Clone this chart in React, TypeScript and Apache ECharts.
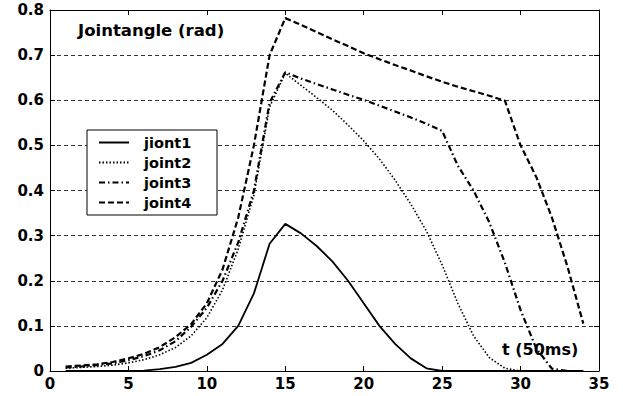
import React, { useEffect, useRef } from "react";
import * as echarts from "echarts";

const tValues = [1,2,3,4,5,6,7,8,9,10,11,12,13,14,15,16,17,18,19,20,21,22,23,24,25,26,27,28,29,30,31,32,33,34];
const joint1 = [0,0,0,0,0,0.001,0.004,0.009,0.018,0.036,0.06,0.1,0.172,0.282,0.326,0.305,0.277,0.243,0.2,0.15,0.1,0.06,0.028,0.006,0,0,0,0,0,0,0,0,0,0];
const joint2 = [0.006,0.008,0.01,0.013,0.018,0.025,0.036,0.052,0.078,0.118,0.18,0.27,0.39,0.585,0.66,0.633,0.606,0.578,0.545,0.51,0.47,0.423,0.37,0.31,0.235,0.15,0.078,0.03,0.006,0,0,0,0,0];
const joint3 = [0.008,0.01,0.013,0.017,0.024,0.033,0.046,0.066,0.098,0.14,0.2,0.285,0.4,0.595,0.662,0.648,0.636,0.624,0.612,0.601,0.588,0.575,0.562,0.548,0.532,0.455,0.4,0.33,0.24,0.135,0.05,0.005,0,0];
const joint4 = [0.01,0.012,0.015,0.02,0.028,0.038,0.053,0.075,0.104,0.15,0.225,0.34,0.5,0.7,0.782,0.767,0.751,0.735,0.72,0.704,0.691,0.678,0.666,0.653,0.641,0.63,0.62,0.61,0.599,0.5,0.43,0.34,0.23,0.105];
const seriesNames = ["jiont1", "joint2", "joint3", "joint4"];
const xTicks = [0, 35, 5];
const yTicks = [0, 0.8, 0.1];
const titleText = "Jointangle (rad)";
const xName = "t (50ms)";

const FONT = "DejaVu Sans";

export default function App() {
  const ref = useRef<HTMLDivElement>(null);
  useEffect(() => {
    document.body.style.margin = "0";
    const chart = echarts.init(ref.current!, null, { renderer: "svg" });
    const pairs = (arr: number[]) => tValues.map((t, i) => [t, arr[i]]);
    const styles: any[] = [
      { type: "solid", width: 1.8 },
      { type: [1.5, 2], width: 1.6 },
      { type: [6, 3, 1.5, 3], width: 2.2 },
      { type: [6, 3], width: 2.2 },
    ];
    const datasets = [joint1, joint2, joint3, joint4];
    const tickStyle = { show: true, inside: true, length: 5, lineStyle: { color: "#000" } };
    const lineStyleAxis = { show: true, onZero: false, lineStyle: { color: "#000", width: 1 } };
    chart.setOption({
      animation: false,
      title: {
        text: titleText,
        left: 73,
        top: 17,
        textStyle: { fontFamily: FONT, fontSize: 16.5, fontWeight: "bold", color: "#000" },
      },
      legend: {
        orient: "vertical",
        left: 98,
        top: 135,
        itemWidth: 30,
        itemHeight: 14,
        itemGap: 5,
        padding: 0,
        z: 20,
        data: seriesNames,
        itemStyle: { opacity: 0 },
        textStyle: { fontFamily: FONT, fontSize: 14.5, fontWeight: "bold", color: "#000", padding: [0, 0, 0, 10] },
      },
      grid: { left: 50, top: 10, right: 24, bottom: 25, containLabel: false },
      xAxis: [
        {
          type: "value",
          min: xTicks[0],
          max: xTicks[1],
          interval: xTicks[2],
          position: "bottom",
          axisLine: lineStyleAxis,
          axisTick: tickStyle,
          splitLine: { show: false },
          axisLabel: { fontFamily: FONT, fontSize: 15, fontWeight: "bold", color: "#000", margin: 5 },
        },
        {
          type: "value",
          min: xTicks[0],
          max: xTicks[1],
          interval: xTicks[2],
          position: "top",
          axisLine: lineStyleAxis,
          axisTick: tickStyle,
          splitLine: { show: false },
          axisLabel: { show: false },
        },
      ],
      yAxis: [
        {
          type: "value",
          min: yTicks[0],
          max: yTicks[1],
          interval: yTicks[2],
          position: "left",
          axisLine: lineStyleAxis,
          axisTick: tickStyle,
          splitLine: { show: true, lineStyle: { color: "#333", type: [4, 3], width: 1 } },
          axisLabel: {
            fontFamily: FONT,
            fontSize: 15,
            fontWeight: "bold",
            color: "#000",
            margin: 6,
            formatter: (v: number) => (v === 0 ? "0" : v.toFixed(1)),
          },
        },
        {
          type: "value",
          min: yTicks[0],
          max: yTicks[1],
          interval: yTicks[2],
          position: "right",
          axisLine: lineStyleAxis,
          axisTick: tickStyle,
          splitLine: { show: false },
          axisLabel: { show: false },
        },
      ],
      graphic: [
        {
          type: "rect",
          shape: { x: 87, y: 130, width: 130, height: 85 },
          style: { fill: "#fff", stroke: "#000", lineWidth: 1 },
          z: 4,
        },
        {
          type: "text",
          x: 502,
          y: 341,
          style: { text: xName, fontFamily: FONT, fontSize: 16, fontWeight: "bold", fill: "#000" },
          z: 10,
        },
      ],
      series: datasets.map((d, i) => ({
        name: seriesNames[i],
        type: "line",
        data: pairs(d),
        showSymbol: false,
        symbol: "none",
        lineStyle: { color: "#000", ...styles[i] },
        itemStyle: { color: "#000" },
        z: 3,
      })),
    });
    return () => chart.dispose();
  }, []);
  return <div ref={ref} style={{ width: 623, height: 396 }} />;
}
